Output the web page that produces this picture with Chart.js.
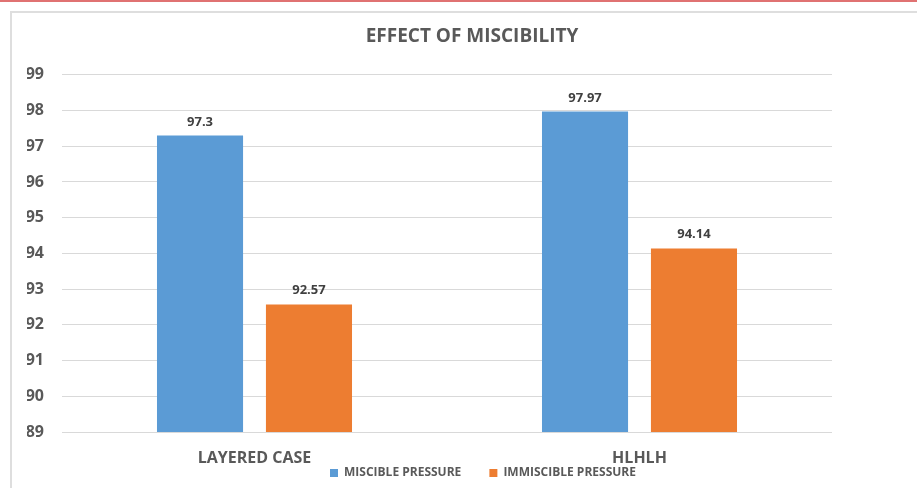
<!DOCTYPE html>
<html>
<head>
<meta charset="utf-8">
<script src="https://cdn.jsdelivr.net/npm/chart.js@4.4.0/dist/chart.umd.min.js"></script>
<style>
  html, body { margin: 0; padding: 0; background: #ffffff; }
  #wrap { position: relative; width: 917px; height: 488px; overflow: hidden; }
  #topline { position: absolute; left: 0; top: 0; width: 917px; height: 2px; background: #e07272; }
  #frame { position: absolute; left: 10px; top: 11px; width: 930px; height: 520px; border: 2px solid #dedede; }
  canvas { position: absolute; left: 0; top: 0; }
</style>
</head>
<body>
<div id="wrap">
  <div id="topline"></div>
  <div id="frame"></div>
  <canvas id="chart" width="917" height="488"></canvas>
</div>
<script>
// Recovery results for the two reservoir set-ups
const categories = ['LAYERED CASE', 'HLHLH'];
const seriesNames = ['MISCIBLE PRESSURE', 'IMMISCIBLE PRESSURE'];
const miscible = [97.3, 97.97];
const immiscible = [92.57, 94.14];
const yMin = 89;
const yMax = 99;
const yStep = 1;

const FONT = '"Open Sans", "DejaVu Sans", sans-serif';
const TEXT_GREY = '#595959';
const PAD_BOTTOM = 2;
const PLOT_BOTTOM = 432;
const LEGEND_SHIFT_X = 11;
const LEGEND_TOP = 467;

// Value written above each bar
const barValueLabels = {
  id: 'barValueLabels',
  afterDatasetsDraw(chart) {
    const ctx = chart.ctx;
    ctx.save();
    ctx.font = '700 13px ' + FONT;
    ctx.fillStyle = '#404040';
    ctx.textAlign = 'center';
    ctx.textBaseline = 'alphabetic';
    chart.data.datasets.forEach((ds, i) => {
      chart.getDatasetMeta(i).data.forEach((bar, j) => {
        ctx.fillText(String(ds.data[j]), bar.x, bar.y - 10);
      });
    });
    ctx.restore();
  }
};

// Tuck the legend row in just under the category names
const legendOffset = {
  id: 'legendOffset',
  afterLayout(chart) {
    const l = chart.legend;
    const h = l.bottom - l.top;
    l.left += LEGEND_SHIFT_X;
    l.right += LEGEND_SHIFT_X;
    l.top = LEGEND_TOP;
    l.bottom = l.top + h;
  }
};

new Chart(document.getElementById('chart'), {
  type: 'bar',
  data: {
    labels: categories,
    datasets: [
      { label: seriesNames[0], data: miscible, backgroundColor: '#5b9bd5' },
      { label: seriesNames[1], data: immiscible, backgroundColor: '#ed7d31' }
    ]
  },
  options: {
    responsive: false,
    animation: false,
    devicePixelRatio: 1,
    categoryPercentage: 0.566,
    barPercentage: 0.79,
    layout: { padding: { top: 20, left: 27, right: 0, bottom: PAD_BOTTOM } },
    plugins: {
      title: {
        display: true,
        text: 'EFFECT OF MISCIBILITY',
        color: TEXT_GREY,
        font: { family: FONT, size: 19, weight: '700' },
        padding: { top: 5, bottom: 27 }
      },
      legend: {
        position: 'bottom',
        labels: {
          color: TEXT_GREY,
          font: { family: FONT, size: 12, weight: '700' },
          boxWidth: 8,
          boxHeight: 8,
          padding: 0,
          generateLabels(chart) {
            const items = Chart.defaults.plugins.legend.labels.generateLabels(chart);
            items.forEach((it, i) => {
              it.lineWidth = 0;
              if (i < items.length - 1) it.text = it.text + '         ';
            });
            return items;
          }
        }
      },
      tooltip: { enabled: false }
    },
    scales: {
      x: {
        grid: { display: false, drawTicks: false },
        border: { display: false },
        ticks: {
          color: TEXT_GREY,
          font: { family: FONT, size: 16, weight: '700' },
          padding: 17
        },
        afterFit(scale) {
          const legendH = scale.chart.legend ? scale.chart.legend.height : 0;
          scale.height = scale.chart.height - PAD_BOTTOM - legendH - PLOT_BOTTOM;
        }
      },
      y: {
        min: yMin,
        max: yMax,
        grid: { color: '#d9d9d9', lineWidth: 1, drawTicks: false },
        border: { display: false },
        ticks: {
          stepSize: yStep,
          color: TEXT_GREY,
          font: { family: FONT, size: 16, weight: '700' },
          padding: 18
        },
        afterFit(scale) { scale.width = 35; }
      },
      yRight: {
        position: 'right',
        display: true,
        grid: { display: false, drawTicks: false },
        border: { display: false },
        ticks: { display: false },
        afterFit(scale) { scale.width = 85; }
      }
    }
  },
  plugins: [barValueLabels, legendOffset]
});
</script>
</body>
</html>
